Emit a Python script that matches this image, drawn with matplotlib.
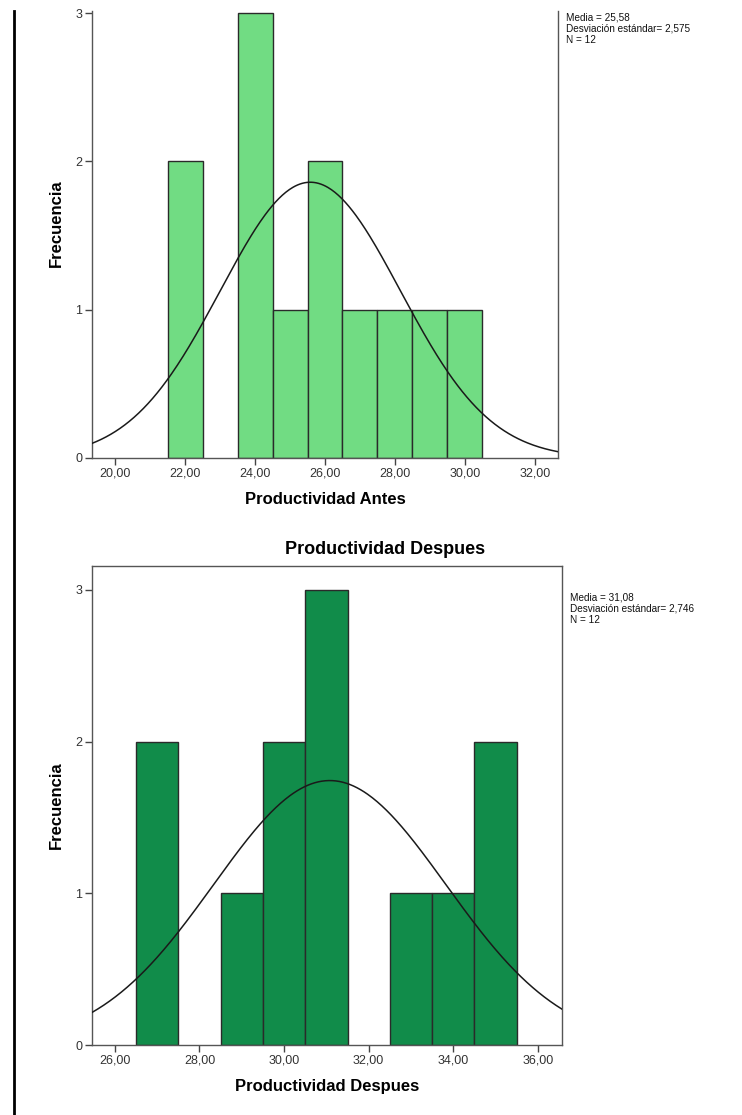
import numpy as np
import matplotlib
matplotlib.use("Agg")
import matplotlib.pyplot as plt
from matplotlib.lines import Line2D

plt.rcParams['font.family'] = ['Liberation Sans', 'DejaVu Sans']

# Data
antes_centers = [22, 24, 25, 26, 27, 28, 29, 30]
antes_counts = [2, 3, 1, 2, 1, 1, 1, 1]
antes_mean, antes_sd, antes_n = 25.58, 2.575, 12
antes_xticks = [20, 22, 24, 26, 28, 30, 32]

despues_centers = [27, 29, 30, 31, 33, 34, 35]
despues_counts = [2, 1, 2, 3, 1, 1, 2]
despues_mean, despues_sd, despues_n = 31.08, 2.746, 12
despues_xticks = [26, 28, 30, 32, 34, 36]

yticks = [0, 1, 2, 3]

W, H = 742, 1115
fig = plt.figure(figsize=(W / 100, H / 100), dpi=100)

def px_axes(l, t, r, b):
    return fig.add_axes([l / W, (H - b) / H, (r - l) / W, (b - t) / H])

def style(ax, xlim, ylim, xticks, color, centers, counts, mean, sd, n, xlabel):
    ax.bar(centers, counts, width=1.0, color=color, edgecolor='#2a2a2a', linewidth=1.0, zorder=2)
    xs = np.linspace(xlim[0], xlim[1], 400)
    ys = n * 1.0 / (sd * np.sqrt(2 * np.pi)) * np.exp(-0.5 * ((xs - mean) / sd) ** 2)
    ax.plot(xs, ys, color='#1a1a1a', linewidth=1.1, zorder=3)
    ax.set_xlim(*xlim)
    ax.set_ylim(*ylim)
    ax.set_xticks(xticks)
    ax.set_xticklabels([f"{v:.2f}".replace('.', ',') for v in xticks], fontsize=9, color='#333333')
    ax.set_yticks(yticks)
    ax.set_yticklabels([str(v) for v in yticks], fontsize=9, color='#333333')
    ax.tick_params(direction='out', length=5, width=1, color='#444444', pad=2)
    for s in ax.spines.values():
        s.set_color('#555555')
        s.set_linewidth(1.0)
    ax.set_xlabel(xlabel, fontsize=12, fontweight='bold', labelpad=9)
    ax.set_ylabel('Frecuencia', fontsize=12, fontweight='bold')

# Top chart
ax1 = px_axes(92, 11, 558, 458)
style(ax1, (19.34, 32.66), (0, 3.0135), antes_xticks, '#71dc83',
      antes_centers, antes_counts, antes_mean, antes_sd, antes_n, 'Productividad Antes')
ax1.spines['top'].set_visible(False)
ax1.yaxis.set_label_coords(-28 / 466, (458 - 223) / (458 - 11))

# Bottom chart
ax2 = px_axes(92, 566, 562, 1045)
style(ax2, (25.46, 36.57), (0, 3.158), despues_xticks, '#118c4a',
      despues_centers, despues_counts, despues_mean, despues_sd, despues_n, 'Productividad Despues')
ax2.yaxis.set_label_coords(-28 / 470, 0.5)
fig.text(385 / W, 1 - 550 / H, 'Productividad Despues', fontsize=13, fontweight='bold',
         ha='center', va='center')

# Stats text
fig.text(566 / W, 1 - 12 / H,
         f"Media = {antes_mean:.2f}".replace('.', ',') + "\n" +
         f"Desviación estándar= {antes_sd:.3f}".replace('.', ',') + "\n" +
         f"N = {antes_n}",
         fontsize=7.2, va='top', ha='left', linespacing=1.2, color='#111111')
fig.text(570 / W, 1 - 592 / H,
         f"Media = {despues_mean:.2f}".replace('.', ',') + "\n" +
         f"Desviación estándar= {despues_sd:.3f}".replace('.', ',') + "\n" +
         f"N = {despues_n}",
         fontsize=7.2, va='top', ha='left', linespacing=1.2, color='#111111')

# Left border line
fig.add_artist(Line2D([13.5 / W, 13.5 / W], [0, 1 - 11 / H], color='black', linewidth=2.0))

fig.savefig('out.png', dpi=100)
